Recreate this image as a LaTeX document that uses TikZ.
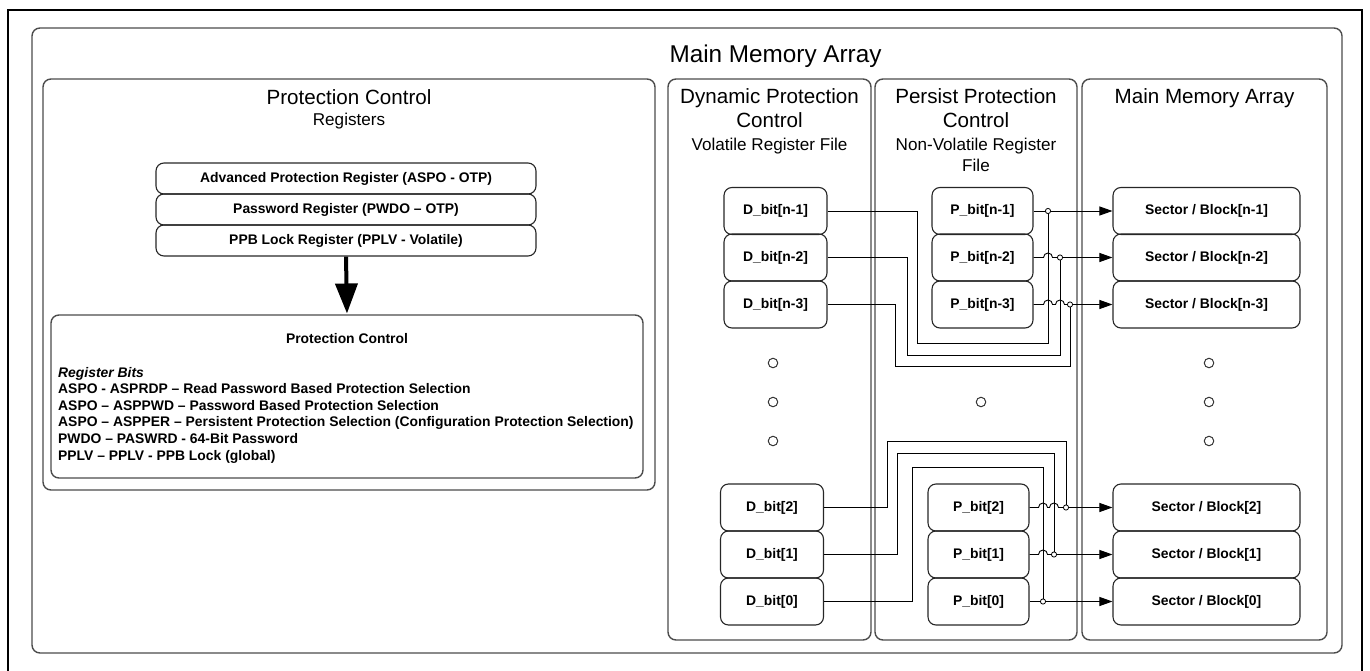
\documentclass[tikz,border=0pt]{standalone}
\usepackage{fontspec}
\setmainfont{Liberation Sans}
\usetikzlibrary{arrows.meta}
\begin{document}
\begin{tikzpicture}[x=1pt,y=-1pt,
  container/.style={draw=black!70, line width=1.4pt, rounded corners=8pt},
  boxbase/.style={draw=black!85, line width=1.1pt, rounded corners=8pt, inner sep=0pt, font=\fontsize{13.9}{16.7}\selectfont\bfseries},
  dbox/.style={boxbase, minimum width=103pt, minimum height=47pt},
  sbox/.style={boxbase, minimum width=187pt, minimum height=47pt},
  rbox/.style={boxbase, minimum width=380pt, minimum height=31pt},
  ttl/.style={anchor=base, inner sep=0pt, font=\fontsize{20.6}{24.7}\selectfont},
  subttl/.style={anchor=base, inner sep=0pt, font=\fontsize{17.1}{20.5}\selectfont},
  bits/.style={anchor=base west, inner sep=0pt, font=\fontsize{13.9}{16.7}\selectfont\bfseries},
  wire/.style={draw=black, line width=0.9pt},
  arr/.style={-{Triangle[length=13pt,width=9pt]}},
  dot/.style={circle, draw=black!80, line width=1pt, minimum size=9.5pt, inner sep=0pt},
  junc/.style={draw=black, line width=0.8pt, fill=white}
]
\useasboundingbox (0,0) rectangle (1370,671);
\begin{scope}
  \clip (0,0) rectangle (1370,671);
  \draw[line width=2.2pt] (8,10) rectangle (1362,700);
\end{scope}

% containers
\draw[container] (32,28) rectangle (1342,653);
\node[anchor=base, inner sep=0pt, font=\fontsize{24.3}{29}\selectfont] (maintitle) at (775.5,62.7) {Main Memory Array};

\draw[container] (43,79) rectangle (655,490);
\draw[container] (668,79) rectangle (871,640);
\draw[container] (875,79) rectangle (1077,640);
\draw[container] (1082,79) rectangle (1327,640);

% left panel
\node[ttl] (pct) at (349,105) {Protection Control};
\node[subttl] (pcs) at (349,126) {Registers};
\node[rbox] (aspo) at (346,178.5) {Advanced Protection Register (ASPO - OTP)};
\node[rbox] (pwdo) at (346,209.5) {Password Register (PWDO – OTP)};
\node[rbox] (pplv) at (346,240.5) {PPB Lock Register (PPLV - Volatile)};
\draw[container] (51,315) rectangle (643,478);
\coordinate (pcin) at (347,315);
\draw[line width=4pt, -{Triangle[length=30pt,width=22pt]}, shorten >=1.5pt] (pplv.south) -- (pcin);
\node[anchor=base, inner sep=0pt, font=\fontsize{13.9}{16.7}\selectfont\bfseries] (pcb) at (347,343) {Protection Control};
\node[bits] (rb0) at (58,377) {\itshape Register Bits};
\node[bits] (rb1) at (58,393.5) {ASPO - ASPRDP – Read Password Based Protection Selection};
\node[bits] (rb2) at (58,410) {ASPO – ASPPWD – Password Based Protection Selection};
\node[bits] (rb3) at (58,426.5) {ASPO – ASPPER – Persistent Protection Selection (Configuration Protection Selection)};
\node[bits] (rb4) at (58,443) {PWDO – PASWRD - 64-Bit Password};
\node[bits] (rb5) at (58,460) {PPLV – PPLV - PPB Lock (global)};

% column titles
\node[ttl] (dt1) at (769.5,103.5) {Dynamic Protection};
\node[ttl] (dt2) at (769.5,128) {Control};
\node[subttl] (dt3) at (769.5,151) {Volatile Register File};
\node[ttl] (pt1) at (976,103.5) {Persist Protection};
\node[ttl] (pt2) at (976,128) {Control};
\node[subttl] (pt3) at (976,151) {Non-Volatile Register};
\node[subttl] (pt4) at (976,172) {File};
\node[ttl] (mt1) at (1204.5,103.5) {Main Memory Array};

% D bits
\node[dbox] (dn1) at (775.5,211) {D\_bit[n-1]};
\node[dbox] (dn2) at (775.5,257.5) {D\_bit[n-2]};
\node[dbox] (dn3) at (775.5,304.5) {D\_bit[n-3]};
\node[dbox] (d2) at (772,507.5) {D\_bit[2]};
\node[dbox] (d1) at (772,554.5) {D\_bit[1]};
\node[dbox] (d0) at (772,601.5) {D\_bit[0]};
% P bits
\node[dbox, minimum width=101pt] (pn1) at (982.5,211) {P\_bit[n-1]};
\node[dbox, minimum width=101pt] (pn2) at (982.5,257.5) {P\_bit[n-2]};
\node[dbox, minimum width=101pt] (pn3) at (982.5,304.5) {P\_bit[n-3]};
\node[dbox, minimum width=101pt] (p2) at (978.5,507.5) {P\_bit[2]};
\node[dbox, minimum width=101pt] (p1) at (978.5,554.5) {P\_bit[1]};
\node[dbox, minimum width=101pt] (p0) at (978.5,601.5) {P\_bit[0]};
% sectors
\node[sbox] (sn1) at (1206.5,211) {Sector / Block[n-1]};
\node[sbox] (sn2) at (1206.5,257.5) {Sector / Block[n-2]};
\node[sbox] (sn3) at (1206.5,304.5) {Sector / Block[n-3]};
\node[sbox] (s2) at (1206.5,507.5) {Sector / Block[2]};
\node[sbox] (s1) at (1206.5,554.5) {Sector / Block[1]};
\node[sbox] (s0) at (1206.5,601.5) {Sector / Block[0]};

% ellipsis dots
\node[dot] (dd1) at (773,363) {};
\node[dot] (dd2) at (773,402) {};
\node[dot] (dd3) at (773,441) {};
\node[dot] (pd1) at (981,402) {};
\node[dot] (md1) at (1209,363) {};
\node[dot] (md2) at (1209,402) {};
\node[dot] (md3) at (1209,441) {};

% junctions
\coordinate (j1) at (1048,211);
\coordinate (j2) at (1060,257.5);
\coordinate (j3) at (1070,304.5);
\coordinate (j4) at (1066,507.5);
\coordinate (j5) at (1054,554.5);
\coordinate (j6) at (1043,601.5);

% D wires
\draw[wire] (dn1.east) -| (917,343) -| (j1);
\draw[wire] (dn2.east) -| (907,355) -| (j2);
\draw[wire] (dn3.east) -| (895,366) -| (j3);
\draw[wire] (d2.east) -| (887,441) -| (j4);
\draw[wire] (d1.east) -| (897,453) -| (j5);
\draw[wire] (d0.east) -| (912,467) -| (j6);

% P wires with hops
\draw[wire,arr] (pn1.east) -- (sn1.west);
\draw[wire,arr] (pn2.east) -- (1043.5,257.5) arc[start angle=180,end angle=0,radius=4.5pt] -- (sn2.west);
\draw[wire,arr] (pn3.east) -- (1043.5,304.5) arc[start angle=180,end angle=0,radius=4.5pt] -- (1055.5,304.5) arc[start angle=180,end angle=0,radius=4.5pt] -- (sn3.west);
\draw[wire,arr] (p2.east) -- (1038.5,507.5) arc[start angle=180,end angle=0,radius=4.5pt] -- (1049.5,507.5) arc[start angle=180,end angle=0,radius=4.5pt] -- (s2.west);
\draw[wire,arr] (p1.east) -- (1038.5,554.5) arc[start angle=180,end angle=0,radius=4.5pt] -- (s1.west);
\draw[wire,arr] (p0.east) -- (s0.west);

\foreach \j in {j1,j2,j3,j4,j5,j6} \draw[junc] (\j) circle[radius=2.6pt];
\end{tikzpicture}
\end{document}
